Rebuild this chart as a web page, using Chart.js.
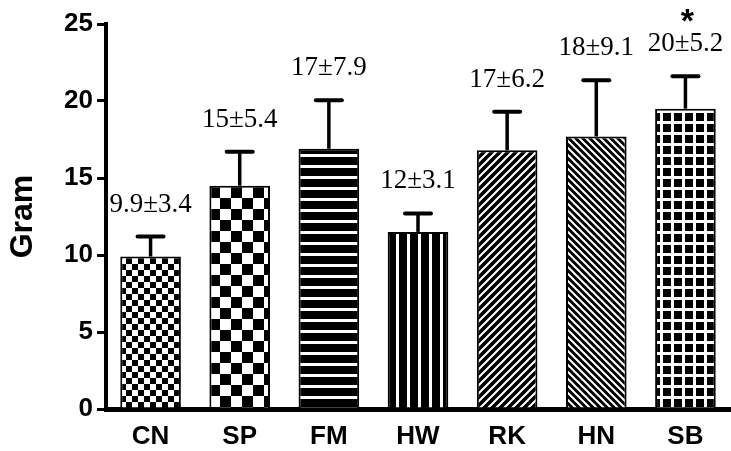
<!DOCTYPE html>
<html><head><meta charset="utf-8">
<script src="https://cdn.jsdelivr.net/npm/chart.js@4"></script>
<style>html,body{margin:0;padding:0;background:#fff;} #wrap{width:731px;height:451px;position:relative;}</style>
</head><body><div id="wrap"><canvas id="c"></canvas></div>
<script>
const categories = ['CN','SP','FM','HW','RK','HN','SB'];
const meanValues = [9.9, 14.5, 16.9, 11.5, 16.8, 17.7, 19.5];
const errorValues = [1.3, 2.2, 3.15, 1.2, 2.5, 3.65, 2.1];
const labelMeans = ['9.9','15','17','12','17','18','20'];
const labelSDs = ['3.4','5.4','7.9','3.1','6.2','9.1','5.2'];
const significance = ['','','','','','','*'];
const yMin = 0, yMax = 25, yStep = 5;
const yTitle = 'Gram';

function tile(w, h, draw) {
  const c = document.createElement('canvas'); c.width = w; c.height = h;
  const g = c.getContext('2d'); draw(g, w, h);
  return document.getElementById('c').getContext('2d').createPattern(c, 'repeat');
}
function checker(cell) {
  return tile(cell*2, cell*2, (g) => { g.fillStyle='#fff'; g.fillRect(0,0,cell*2,cell*2); g.fillStyle='#000'; g.fillRect(0,0,cell,cell); g.fillRect(cell,cell,cell,cell); });
}
function hStripes(p, wh) {
  return tile(4, p, (g) => { g.fillStyle='#000'; g.fillRect(0,0,4,p); g.fillStyle='#fff'; g.fillRect(0,0,4,wh); });
}
function vStripes(p, wh) {
  return tile(p, 4, (g) => { g.fillStyle='#000'; g.fillRect(0,0,p,4); g.fillStyle='#fff'; g.fillRect(0,0,wh,4); });
}
function diag(s, up, lw) {
  return tile(s, s, (g) => {
    g.fillStyle='#000'; g.fillRect(0,0,s,s);
    g.strokeStyle='#fff'; g.lineWidth=lw;
    g.beginPath();
    if (up) { g.moveTo(-1,s+1); g.lineTo(s+1,-1); g.moveTo(-1,1); g.lineTo(1,-1); g.moveTo(s-1,s+1); g.lineTo(s+1,s-1); }
    else { g.moveTo(-1,-1); g.lineTo(s+1,s+1); g.moveTo(s-1,-1); g.lineTo(s+1,1); g.moveTo(-1,s-1); g.lineTo(1,s+1); }
    g.stroke();
  });
}
function gridPat(p, wh) {
  return tile(p, p, (g) => { g.fillStyle='#000'; g.fillRect(0,0,p,p); g.fillStyle='#fff'; g.fillRect(0,0,p,wh); g.fillRect(0,0,wh,p); });
}
const fills = [checker(6), checker(11), hStripes(11,3), vStripes(11,3), diag(8,true,2), diag(7,false,2), gridPat(11,3)];

const annot = {
  id: 'annot',
  afterDatasetsDraw(chart) {
    const ctx = chart.ctx; const meta = chart.getDatasetMeta(0); const ys = chart.scales.y;
    ctx.save();
    meta.data.forEach((el, i) => {
      const x = el.x, yBar = el.y;
      const yErr = ys.getPixelForValue(meanValues[i] + errorValues[i]);
      ctx.strokeStyle = '#000';
      ctx.lineWidth = 3.5; ctx.lineCap = 'butt';
      ctx.beginPath(); ctx.moveTo(x, yBar); ctx.lineTo(x, yErr); ctx.stroke();
      ctx.lineWidth = 4; ctx.lineCap = 'round';
      ctx.beginPath(); ctx.moveTo(x - 13, yErr); ctx.lineTo(x + 13, yErr); ctx.stroke();
      ctx.fillStyle = '#000'; ctx.textAlign = 'center'; ctx.textBaseline = 'alphabetic';
      ctx.font = '27px "Liberation Serif"';
      const base = yErr - 25;
      ctx.fillText(labelMeans[i] + '±' + labelSDs[i], x, base);
      if (significance[i]) {
        ctx.font = 'bold 34px "Liberation Sans"';
        ctx.fillText(significance[i], x + 2, base - 19);
      }
    });
    ctx.restore();
  }
};

new Chart(document.getElementById('c'), {
  type: 'bar',
  data: { labels: categories, datasets: [{ data: meanValues, backgroundColor: fills, borderColor: '#000', borderWidth: 2, borderSkipped: 'bottom', barPercentage: 0.68, categoryPercentage: 1.0 }] },
  options: {
    responsive: true, maintainAspectRatio: false, animation: false, devicePixelRatio: 1,
    layout: { padding: { top: 24, right: 1, left: 0, bottom: 0 } },
    plugins: { legend: { display: false }, tooltip: { enabled: false } },
    scales: {
      x: {
        afterFit(s) { s.height = 42; },
        grid: { display: false, drawTicks: false },
        border: { display: true, width: 5, color: '#000' },
        ticks: { color: '#000', padding: 12, font: { family: 'Liberation Sans', size: 26, weight: 'bold' } }
      },
      y: {
        min: yMin, max: yMax,
        afterFit(s) { s.width = 106; },
        grid: { display: true, drawOnChartArea: false, drawTicks: true, tickLength: 9, lineWidth: 3, color: '#000' },
        border: { display: true, width: 4, color: '#000' },
        ticks: { stepSize: yStep, color: '#000', padding: 4, font: { family: 'Liberation Sans', size: 26, weight: 'bold' } },
        title: { display: true, text: yTitle, color: '#000', padding: { top: 4, bottom: 0 }, font: { family: 'Liberation Sans', size: 32, weight: 'bold' } }
      }
    }
  },
  plugins: [annot]
});
</script></body></html>
